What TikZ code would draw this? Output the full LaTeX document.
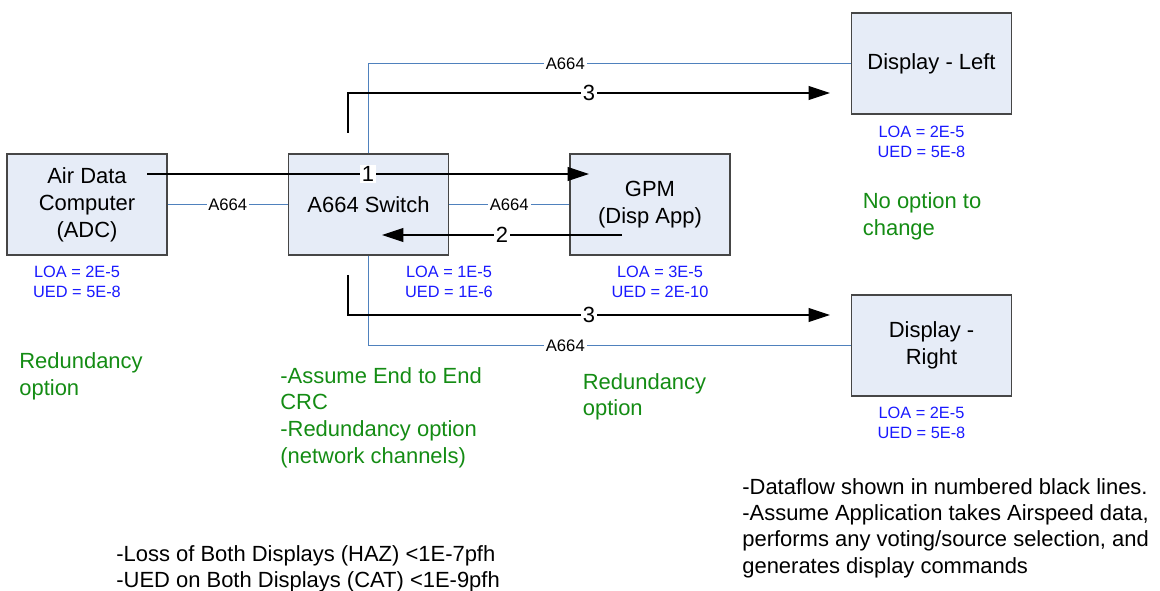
\documentclass[tikz,border=0pt]{standalone}
\usepackage{fontspec}
\setmainfont{Liberation Sans}
\usepackage{xcolor}
\usetikzlibrary{arrows.meta, positioning, calc}

\definecolor{boxfill}{RGB}{230,236,247}
\definecolor{boxline}{RGB}{70,70,70}
\definecolor{busblue}{RGB}{79,129,189}
\definecolor{rateblue}{RGB}{25,25,255}
\definecolor{remarkgreen}{RGB}{20,140,20}

\begin{document}
\begin{tikzpicture}[x=0.02cm, y=-0.02cm,
    unit/.style={draw=boxline, line width=0.7pt, fill=boxfill, minimum width=3.2cm, minimum height=2.02cm, inner sep=0pt, align=center, font=\fontsize{12.5}{15.4}\selectfont},
    bus/.style={draw=busblue, line width=0.6pt},
    buslabel/.style={fill=white, inner sep=1pt, font=\fontsize{9.5}{11}\selectfont},
    flow/.style={draw=black, line width=0.6pt, -{Triangle[length=0.43cm, width=0.28cm]}},
    flowlabel/.style={fill=white, inner sep=1pt, font=\fontsize{12.5}{15}\selectfont},
    rates/.style={text=rateblue, align=center, inner sep=0pt, anchor=north, font=\fontsize{9.3}{11.2}\selectfont},
    remark/.style={text=remarkgreen, align=left, inner sep=0pt, anchor=north west, font=\fontsize{12.5}{15.2}\selectfont},
    note/.style={align=left, inner sep=0pt, anchor=north west, font=\fontsize{12.5}{15}\selectfont}]
    \useasboundingbox (0,0) rectangle (1160,591);

    % units
    \node [unit] (adc) at (87,204.5) {Air Data\\Computer\\(ADC)};
    \node [unit] (sw) at (368.5,204.5) {A664 Switch};
    \node [unit] (gpm) at (650,204.5) {GPM\\(Disp App)};
    \node [unit] (dl) at (931.5,63.5) {Display - Left};
    \node [unit] (dr) at (931.5,345.5) {Display -\\Right};

    % A664 network
    \draw [bus] (adc) -- node [buslabel] {A664} (sw);
    \draw [bus] (sw) -- node [buslabel] {A664} (gpm);
    \draw [bus] (sw.north) |- node [buslabel, pos=0.704] {A664} (dl.west);
    \draw [bus] (sw.south) |- node [buslabel, pos=0.704] {A664} (dr.west);

    % dataflow
    \coordinate (f1a) at (147,174);
    \coordinate (f1b) at (589,174);
    \coordinate (f2a) at (622,235);
    \coordinate (f2b) at (382,235);
    \coordinate (f3a) at (348,133);
    \coordinate (f3b) at (830,93);
    \coordinate (f4a) at (348,275);
    \coordinate (f4b) at (830,315);
    \draw [flow] (f1a) -- node [flowlabel] {1} (f1b);
    \draw [flow] (f2a) -- node [flowlabel] {2} (f2b);
    \draw [flow] (f3a) |- node [flowlabel, pos=0.75] {3} (f3b);
    \draw [flow] (f4a) |- node [flowlabel, pos=0.75] {3} (f4b);

    % failure rates
    \node [rates] (adcr) at (77,266) {LOA = 2E-5\\UED = 5E-8};
    \node [rates] (swr) at (449,266) {LOA = 1E-5\\UED = 1E-6};
    \node [rates] (gpmr) at (660,266) {LOA = 3E-5\\UED = 2E-10};
    \node [rates] (dlr) at (921.5,126) {LOA = 2E-5\\UED = 5E-8};
    \node [rates] (drr) at (921.5,407) {LOA = 2E-5\\UED = 5E-8};

    % options
    \node [remark] (adcn) at (19,352.5) {Redundancy\\option};
    \node [remark] (swn) at (280,367) {-Assume End to End\\CRC\\-Redundancy option\\(network channels)};
    \node [remark] (gpmn) at (582.5,373) {Redundancy\\option};
    \node [remark] (dln) at (862.5,192.5) {No option to\\change};

    % notes
    \node [note] (flownote) at (742,478) {-Dataflow shown in numbered black lines.\\-Assume Application takes Airspeed data,\\performs any voting/source selection, and\\generates display commands};
    \node [note] (reqnote) at (116,545) {-Loss of Both Displays (HAZ) <1E-7pfh\\-UED on Both Displays (CAT) <1E-9pfh};
\end{tikzpicture}
\end{document}
